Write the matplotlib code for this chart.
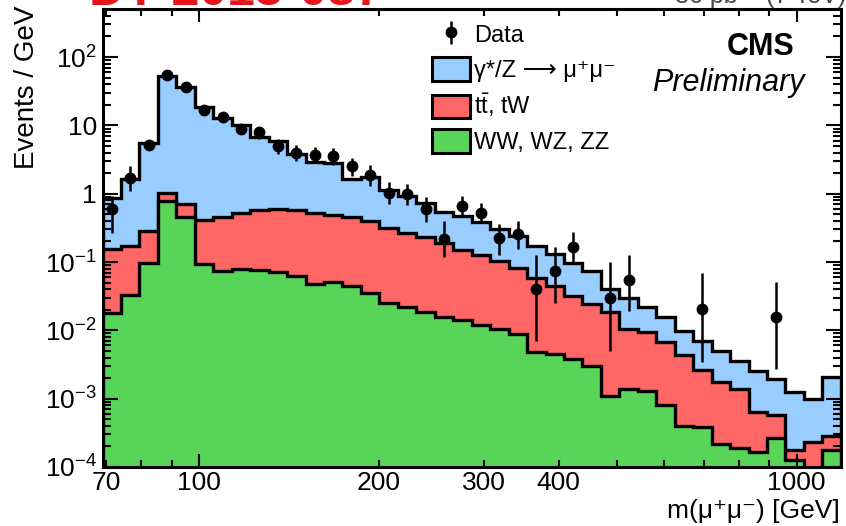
import numpy as np
import matplotlib.pyplot as plt
from matplotlib.patches import Patch
from matplotlib.ticker import FixedLocator, FixedFormatter, NullFormatter

plt.rcParams['font.family'] = ['Liberation Sans', 'DejaVu Sans']
plt.rcParams['mathtext.fontset'] = 'custom'
plt.rcParams['mathtext.rm'] = 'Liberation Sans'
plt.rcParams['mathtext.it'] = 'Liberation Sans:italic'
plt.rcParams['mathtext.default'] = 'regular'

# 40 log-uniform mass bins (GeV)
edges = np.geomspace(69.0, 1186.0, 41)

# stacked backgrounds, events / GeV
dy = [0.72, 1.49, 5.27, 52.0, 35.8, 18.0, 12.45, 9.47, 6.22, 5.27,
      3.27, 2.37, 2.35, 1.21, 1.35, 0.84, 0.66, 0.49, 0.35, 0.32,
      0.255, 0.195, 0.157, 0.113, 0.085, 0.066, 0.0498, 0.0217, 0.0196, 0.0124,
      0.0088, 0.0056, 0.0044, 0.00326, 0.00221, 0.00194, 0.00138, 0.00106, 0.00076, 0.00178]
ttbar = [0.136, 0.139, 0.186, 0.25, 0.25, 0.317, 0.376, 0.448, 0.503, 0.519,
         0.514, 0.473, 0.429, 0.405, 0.365, 0.285, 0.248, 0.212, 0.174, 0.136,
         0.113, 0.0945, 0.0742, 0.0542, 0.0405, 0.0282, 0.0212, 0.0172, 0.0090, 0.0080,
         0.0059, 0.0039, 0.00222, 0.00152, 0.0012, 0.000465, 0.0003, 0.000055, 0.00023, 0.000104]
diboson = [0.0177, 0.033, 0.098, 0.78, 0.45, 0.093, 0.074, 0.080, 0.077, 0.0707,
           0.0615, 0.0474, 0.0512, 0.0448, 0.0347, 0.025, 0.0222, 0.0184, 0.0157, 0.014,
           0.012, 0.0105, 0.0088, 0.0048, 0.0045, 0.0038, 0.0030, 0.0011, 0.0014, 0.0013,
           0.0008, 0.0004, 0.00038, 0.00022, 0.00019, 0.000165, 0.00027, 0.000125, 0.0, 0.000176]

nan = np.nan
data = [0.59, 1.67, 5.2, 55, 36.5, 17, 13.1, 8.9, 7.9, 4.95,
        3.99, 3.74, 3.62, 2.52, 1.9, 1.03, 0.98, 0.60, 0.22, 0.66,
        0.52, 0.226, 0.254, 0.040, 0.073, 0.168, nan, 0.0296, 0.0543, nan,
        nan, nan, 0.0204, nan, nan, nan, 0.0155, nan, nan, nan]
data_lo = [0.32, 0.58, 0.75, 4, 3.3, 2.2, 1.9, 1.5, 1.5, 1.1,
           1.0, 0.95, 0.95, 0.72, 0.6, 0.33, 0.3, 0.22, 0.1, 0.19,
           0.15, 0.10, 0.10, 0.033, 0.048, 0.075, nan, 0.0246, 0.035, nan,
           nan, nan, 0.017, nan, nan, nan, 0.0128, nan, nan, nan]
data_hi = [0.35, 0.85, 0.96, 4, 3.3, 2.4, 2.1, 1.7, 1.6, 1.3,
           1.2, 1.1, 1.1, 0.8, 0.7, 0.45, 0.42, 0.3, 0.18, 0.26,
           0.22, 0.14, 0.15, 0.086, 0.095, 0.11, nan, 0.069, 0.072, nan,
           nan, nan, 0.048, nan, nan, nan, 0.036, nan, nan, nan]

blue, red, green = '#99ccff', '#ff6666', '#58d458'

fig = plt.figure(figsize=(8.46, 5.26), dpi=100)
ax = fig.add_axes([0.1212, 0.1122, 0.8727, 0.8701])
ax.set_xscale('log')
ax.set_yscale('log')

floor = 1e-6
vv = np.array(diboson)
tt_top = vv + np.array(ttbar)
all_top = tt_top + np.array(dy)
for top, col in [(all_top, blue), (tt_top, red), (vv, green)]:
    top = np.maximum(top, floor)
    ax.stairs(top, edges, baseline=floor, fill=True, color=col, lw=0)
    ax.stairs(top, edges, baseline=floor, color='black', lw=2.4)

centers = np.sqrt(edges[:-1] * edges[1:])
d = np.array(data)
ok = ~np.isnan(d)
eb = ax.errorbar(centers[ok], d[ok],
                 yerr=[np.array(data_lo)[ok], np.array(data_hi)[ok]],
                 fmt='o', color='black', ms=7.5, elinewidth=1.8, capsize=0, zorder=5)

ax.set_xlim(edges[0], edges[-1])
ax.set_ylim(1e-4, 500)

ax.xaxis.set_major_locator(FixedLocator([100, 1000]))
ax.xaxis.set_major_formatter(FixedFormatter(['100', '1000']))
xminor = [70, 80, 90, 200, 300, 400, 500, 600, 700, 800, 900]
ax.xaxis.set_minor_locator(FixedLocator(xminor))
ax.xaxis.set_minor_formatter(FixedFormatter(['70', '', '', '200', '300', '400',
                                             '', '', '', '', '']))
ydec = [1e-4, 1e-3, 1e-2, 1e-1, 1, 10, 100]
ax.yaxis.set_major_locator(FixedLocator(ydec))
ax.yaxis.set_major_formatter(FixedFormatter(['$10^{-4}$', '$10^{-3}$', '$10^{-2}$',
                                             '$10^{-1}$', '1', '10', '$10^{2}$']))
yminor = [m * 10.0 ** e for e in range(-4, 3) for m in range(2, 10)]
ax.yaxis.set_minor_locator(FixedLocator(yminor))
ax.yaxis.set_minor_formatter(NullFormatter())

ax.tick_params(which='both', direction='in', top=True, right=True,
               labelsize=19, width=1.5, colors='black')
ax.tick_params(axis='y', which='major', length=11, pad=4)
ax.tick_params(axis='y', which='minor', length=5.5)
ax.tick_params(axis='x', which='major', length=9.5, pad=3)
ax.tick_params(axis='x', which='minor', length=4.8, pad=3)
for s in ax.spines.values():
    s.set_linewidth(2.2)
    s.set_zorder(10)

fig.text(0.032, 0.99, 'Events / GeV', rotation=90, ha='center', va='top', fontsize=20)
fig.text(0.993, 0.016, 'm(μ⁺μ⁻) [GeV]', ha='right', va='baseline', fontsize=19)

fig.text(0.9397, 0.8954, 'CMS', ha='right', va='baseline', fontsize=22, fontweight='bold')
fig.text(0.9515, 0.827, 'Preliminary', ha='right', va='baseline', fontsize=22, style='italic')

# header texts, cut off by the top edge as in the reference
fig.text(0.105, 0.991, 'DY-2013-087', color='#e8141b', fontsize=36,
         fontweight='bold', ha='left', va='baseline')
fig.text(1.0, 0.995, '36 pb⁻¹ (7 TeV)', color='#444444', fontsize=18,
         ha='right', va='baseline')

handles = [eb,
           Patch(facecolor=blue, edgecolor='black', lw=2.2),
           Patch(facecolor=red, edgecolor='black', lw=2.2),
           Patch(facecolor=green, edgecolor='black', lw=2.2)]
labels = ['Data', 'γ*/Z ⟶ μ⁺μ⁻', r't$\bar{\mathrm{t}}$, tW', 'WW, WZ, ZZ']
fig.legend(handles, labels, loc='upper left', bbox_to_anchor=(0.4996, 0.975),
           frameon=False, fontsize=17, handlelength=1.62, handleheight=1.15,
           handletextpad=0.14, labelspacing=0.42, borderaxespad=0)

fig.savefig('out.png', dpi=100)
